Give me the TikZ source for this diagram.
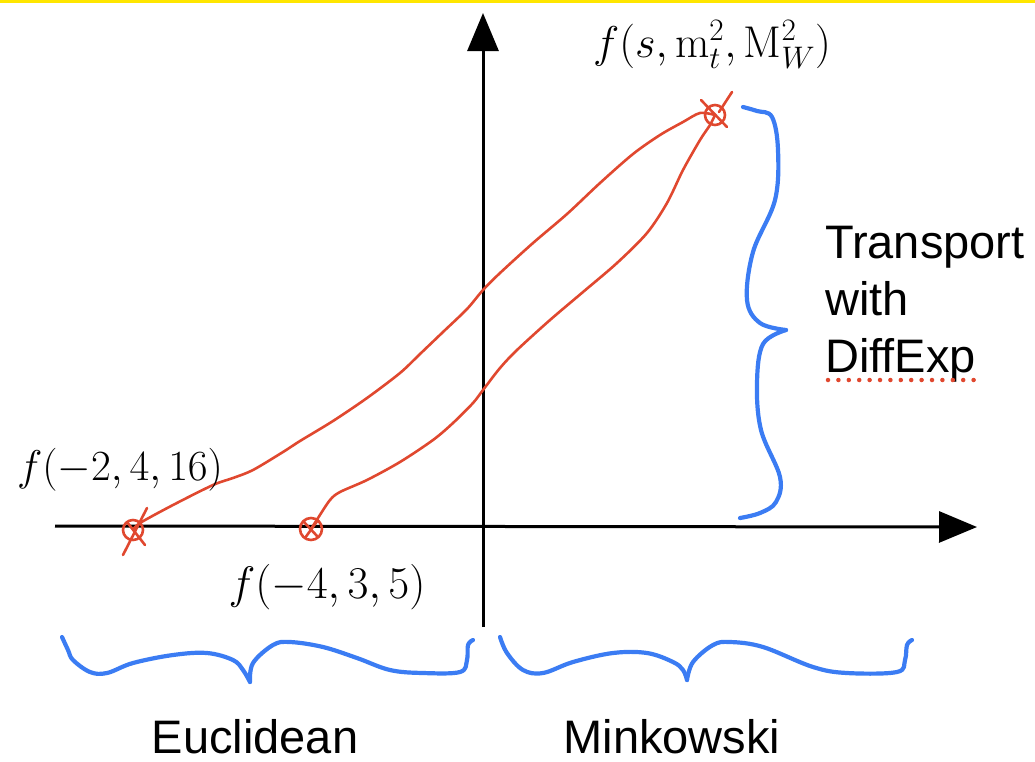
\RequirePackage{fix-cm}
\documentclass[tikz,border=0pt]{standalone}
\usepackage{fontspec}
\setsansfont{Liberation Sans}
\usetikzlibrary{arrows.meta}
\definecolor{pen}{HTML}{E0482F}
\definecolor{hl}{HTML}{3B7CF3}
\definecolor{bar}{HTML}{FFE600}

\begin{document}
\begin{tikzpicture}[x=1pt, y=-1pt,
  axis/.style={line width=3pt, -{Triangle[length=38pt,width=31pt]}},
  trace/.style={pen, line width=2.6pt, line cap=round, line join=round},
  brace/.style={hl, line width=4.2pt, line cap=round, line join=round},
  lbl/.style={inner sep=0pt, anchor=base},
  txt/.style={inner sep=0pt, anchor=base, font=\fontsize{47}{57}\selectfont\sffamily}]
\useasboundingbox (0,0) rectangle (1035,761);
\fill[bar] (0,0) rectangle (1035,3);

% axes
\coordinate (x0) at (55,526);
\coordinate (x1) at (977,527);
\coordinate (y0) at (483,627);
\coordinate (y1) at (483,13);
\draw[axis] (x0) -- (x1);
\draw[axis] (y0) -- (y1);

% marked points
\coordinate (pA) at (133,530);
\coordinate (pB) at (311,529);
\coordinate (pC) at (715,115);
\draw[trace] (pA) circle[radius=10pt];
\draw[trace] (123,555) -- (147,508);
\draw[trace] (127,522) -- (145,545);
\draw[trace] (pB) circle[radius=11pt];
\draw[trace] (305,538) -- (318,520);
\draw[trace] (304,522) -- (317,536);
\draw[trace] (pC) circle[radius=10pt];
\draw[trace] (701,100) -- (727,127);
\draw[trace] (732,92) -- (719,112);

% transport paths
\draw[trace] plot[smooth, tension=0.5] coordinates {(pA) (140,523) (173,505)
  (213,485) (233,478) (253,470) (283,452) (300,441) (333,421) (367,398)
  (400,373) (420,354) (443,332) (467,309) (483,290) (500,273) (533,243)
  (567,214) (600,183) (633,154) (660,135) (683,122) (700,113) (pC)};
\draw[trace] plot[smooth, tension=0.5] coordinates {(pB) (318,518) (330,500)
  (340,492) (367,480) (400,462) (433,440) (453,423) (473,403) (483,390)
  (500,368) (517,350) (550,320) (583,292) (617,263) (647,233) (667,203)
  (683,170) (700,140) (710,125) (pC)};

% braces
\coordinate (bT) at (743,107);
\coordinate (bM) at (786,330);
\coordinate (bB) at (740,518);
\draw[brace] plot[smooth, tension=0.6] coordinates {(bT) (757,111) (772,117)
  (778,150) (775,200) (753,252) (747,300) (760,323) (bM)};
\draw[brace] plot[smooth, tension=0.6] coordinates {(bM) (763,344) (757,383)
  (761,430) (780,477) (776,502) (760,513) (bB)};

\coordinate (eL) at (62,637);
\coordinate (eM) at (250,682);
\coordinate (eR) at (473,640);
\draw[brace] plot[smooth, tension=0.6] coordinates {(eL) (68,650) (73,660)
  (90,672) (107,673) (133,663) (173,655) (207,653) (233,660) (243,670) (eM)};
\draw[brace] plot[smooth, tension=0.6] coordinates {(eM) (253,663) (273,645)
  (290,642) (323,647) (357,658) (390,670) (423,673) (460,672) (467,660)
  (468,645) (eR)};

\coordinate (mL) at (500,637);
\coordinate (mM) at (687,680);
\coordinate (mR) at (912,640);
\draw[brace] plot[smooth, tension=0.6] coordinates {(mL) (507,653) (523,670)
  (543,673) (573,662) (613,653) (647,653) (673,662) (683,670) (mM)};
\draw[brace] plot[smooth, tension=0.6] coordinates {(mM) (693,662) (713,645)
  (730,642) (763,647) (813,667) (847,673) (897,672) (905,660) (907,645) (mR)};

% labels
\node[lbl, font=\fontsize{44.5}{52}\selectfont] (fC) at (712,57)
  {$f(s,\mathrm{m}_t^2,\mathrm{M}_W^2)$};
\node[lbl, font=\fontsize{43}{50}\selectfont] (fA) at (120,480) {$f(-2,4,16)$};
\node[lbl, font=\fontsize{45.5}{52}\selectfont] (fB) at (327,598) {$f(-4,3,5)$};
\node[txt, anchor=base west] (t1) at (825,258) {Transport};
\node[txt, anchor=base west] (t2) at (825,315) {with};
\node[txt, anchor=base west] (t3) at (825,372) {DiffExp};
\draw[pen, line width=4.5pt, line cap=round, dash pattern=on 0pt off 10.4pt]
  ([xshift=3pt,yshift=-8pt]t3.base west) -- ([yshift=-8pt]t3.base east);
\node[txt, text depth=0pt] (eu) at (255,753) {Euclidean};
\node[txt, text depth=0pt] (mi) at (672,753) {Minkowski};
\end{tikzpicture}
\end{document}
